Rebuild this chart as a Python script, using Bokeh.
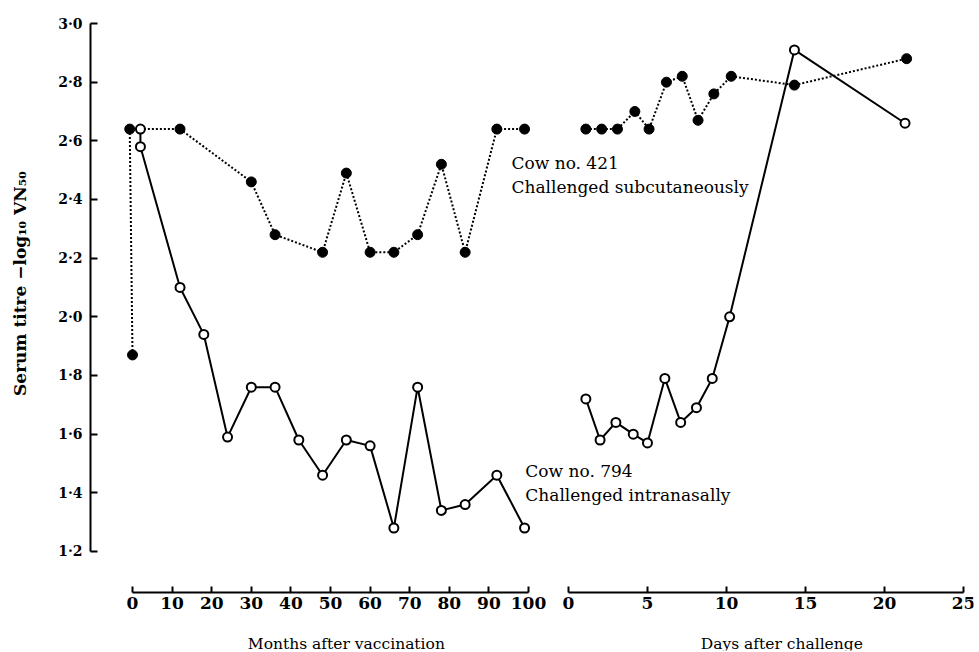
import math
from bokeh.plotting import figure
from bokeh.models import (Range1d, LinearAxis, FixedTicker, CustomJSTickFormatter, Label)
from bokeh.embed import file_html
from bokeh.resources import INLINE

# ---- data ----
# Cow no. 421 (challenged subcutaneously) - filled circles, dotted line
months_421 = [0, -0.7, 12, 30, 36, 48, 54, 60, 66, 72, 78, 84, 92, 99]
titre_421_months = [1.87, 2.64, 2.64, 2.46, 2.28, 2.22, 2.49, 2.22, 2.22, 2.28, 2.52, 2.22, 2.64, 2.64]
days_421 = [1.1, 2.1, 3.1, 4.2, 5.1, 6.2, 7.2, 8.2, 9.2, 10.3, 14.3, 21.4]
titre_421_days = [2.64, 2.64, 2.64, 2.70, 2.64, 2.80, 2.82, 2.67, 2.76, 2.82, 2.79, 2.88]

# Cow no. 794 (challenged intranasally) - open circles, solid line
months_794 = [2, 2, 12, 18, 24, 30, 36, 42, 48, 54, 60, 66, 72, 78, 84, 92, 99]
titre_794_months = [2.64, 2.58, 2.10, 1.94, 1.59, 1.76, 1.76, 1.58, 1.46, 1.58, 1.56, 1.28, 1.76, 1.34, 1.36, 1.46, 1.28]
days_794 = [1.1, 2.0, 3.0, 4.1, 5.0, 6.1, 7.1, 8.1, 9.1, 10.2, 14.3, 21.3]
titre_794_days = [1.72, 1.58, 1.64, 1.60, 1.57, 1.79, 1.64, 1.69, 1.79, 2.00, 2.91, 2.66]

month_ticks = [0, 10, 20, 30, 40, 50, 60, 70, 80, 90, 100]
day_ticks = [0, 5, 10, 15, 20, 25]
titre_ticks = [1.2, 1.4, 1.6, 1.8, 2.0, 2.2, 2.4, 2.6, 2.8, 3.0]

FONT = "DejaVu Serif"
MX0, MX1 = -32.83, 212.37       # months range
DX0, DX1 = -35.82, 25.633       # days range (same frame)
Y0, Y1 = 0.8623, 3.0273
X_AXIS_AT = 1.0602              # y value where the x axis is drawn
Y_AXIS_AT = -10.606             # month value where the y axis is drawn

p = figure(width=979, height=652,
           x_range=Range1d(MX0, MX1), y_range=Range1d(Y0, Y1),
           x_axis_type=None, y_axis_type=None,
           output_backend="svg", toolbar_location=None,
           min_border_left=2, min_border_right=6, min_border_top=15, min_border_bottom=2)
p.extra_x_ranges = {"days": Range1d(DX0, DX1)}
p.outline_line_color = None
p.background_fill_color = "white"
p.border_fill_color = "white"

# one x axis carrying both scales: day ticks converted into the months coordinate
k = (MX1 - MX0) / (DX1 - DX0)
day_ticks_on_month_scale = [MX0 + (d - DX0) * k for d in day_ticks]

xa = LinearAxis(fixed_location=X_AXIS_AT)
xa.ticker = FixedTicker(ticks=month_ticks + day_ticks_on_month_scale, minor_ticks=[])
xa.bounds = (month_ticks[0], day_ticks_on_month_scale[-1])
xa.formatter = CustomJSTickFormatter(args=dict(mx0=MX0, dx0=DX0, k=k, mmax=month_ticks[-1]), code="""
    if (tick <= mmax + 0.5) { return tick.toFixed(0); }
    return Math.round(dx0 + (tick - mx0) / k).toFixed(0);
""")
xa.axis_line_width = 2
xa.axis_line_color = "black"
xa.axis_line_dash = "396 40 395"     # break between the two scales
xa.major_tick_in = 6
xa.major_tick_out = 0
xa.major_tick_line_width = 2
xa.minor_tick_line_color = None
xa.major_label_standoff = 5
xa.major_label_text_font = FONT
xa.major_label_text_font_style = "bold"
xa.major_label_text_font_size = "17px"
xa.major_label_text_color = "black"
p.add_layout(xa, "below")

ya = LinearAxis(fixed_location=Y_AXIS_AT)
ya.ticker = FixedTicker(ticks=titre_ticks, minor_ticks=[])
ya.bounds = (1.2, 3.0)
ya.axis_line_width = 2
ya.major_tick_in = 7
ya.major_tick_out = 0
ya.major_tick_line_width = 2
ya.minor_tick_line_color = None
ya.major_label_standoff = 8
ya.formatter = CustomJSTickFormatter(code="return tick.toFixed(1).replace('.', '\u00b7')")
ya.major_label_text_font = FONT
ya.major_label_text_font_style = "bold"
ya.major_label_text_font_size = "14px"
ya.major_label_text_color = "black"
p.add_layout(ya, "left")

# lines
p.line(months_421, titre_421_months, line_color="black", line_width=2, line_dash="2 2")
p.line(days_421, titre_421_days, x_range_name="days", line_color="black", line_width=2, line_dash="2 2")
p.line(months_794, titre_794_months, line_color="black", line_width=2)
p.line(days_794, titre_794_days, x_range_name="days", line_color="black", line_width=2)

# markers
p.scatter(months_421, titre_421_months, size=10, fill_color="black", line_color="black")
p.scatter(days_421, titre_421_days, x_range_name="days", size=10, fill_color="black", line_color="black")
p.scatter(months_794, titre_794_months, size=9, fill_color="white", line_color="black", line_width=2)
p.scatter(days_794, titre_794_days, x_range_name="days", size=9, fill_color="white", line_color="black", line_width=2)

def add_label(x, y, text, size="17px", align="left", baseline="alphabetic",
              x_range_name="default", angle=0.0, style="normal"):
    p.add_layout(Label(x=x, y=y, text=text, text_font=FONT, text_font_size=size,
                       text_font_style=style, text_color="black", text_baseline=baseline,
                       text_align=align, x_range_name=x_range_name, angle=angle))

add_label(95.7, 2.526, "Cow no. 421")
add_label(95.7, 2.441, "Challenged subcutaneously")
add_label(99.2, 1.476, "Cow no. 794")
add_label(99.2, 1.391, "Challenged intranasally")

# axis titles
add_label(54.0, 0.886, "Months after vaccination", size="15.5px", align="center")
add_label(13.5, 0.886, "Days after challenge", size="15.5px", align="center", x_range_name="days")
add_label(-28.5, 2.113, "Serum titre \u2212log\u2081\u2080 VN\u2085\u2080", size="17px", align="center",
          baseline="middle", angle=math.pi / 2, style="bold")

open("out.html", "w").write(file_html(p, INLINE))
